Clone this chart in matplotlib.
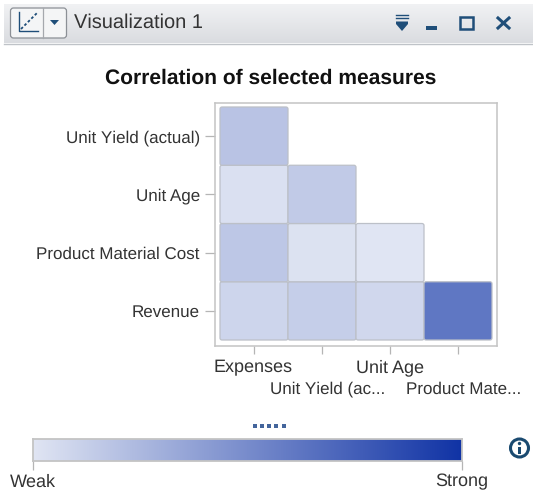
import matplotlib
matplotlib.use("Agg")
import matplotlib.pyplot as plt
import numpy as np
from matplotlib.colors import LinearSegmentedColormap
from matplotlib.patches import FancyBboxPatch, Rectangle, Circle, Polygon

plt.rcParams['font.family'] = ['Liberation Sans', 'DejaVu Sans']
plt.rcParams['text.hinting'] = 'none'
plt.rcParams['text.hinting_factor'] = 1

W, H = 533, 495
title = "Correlation of selected measures"
window_title = "Visualization 1"
y_labels = ["Revenue", "Product Material Cost", "Unit Age", "Unit Yield (actual)"]
x_labels = ["Expenses", "Unit Yield (ac...", "Unit Age", "Product Mate..."]
# rows follow y_labels, columns follow x_labels; None = empty cell
row_revenue = [0.09, 0.13, 0.08, 0.62]
row_material = [0.17, 0.02, 0.00, None]
row_age = [0.03, 0.15, None, None]
row_yield = [0.19, None, None, None]
rows = [row_revenue, row_material, row_age, row_yield]
legend_low, legend_high = "Weak", "Strong"

cmap = LinearSegmentedColormap.from_list("wk", ["#E0E5F3", "#1033A5"])
TXT = "#333333"
NAVY = "#1F4E79"
FS = 12.7

fig = plt.figure(figsize=(W / 100, H / 100), dpi=100, facecolor="white")

def ax_px(x0, y0, x1, y1, **kw):
    return fig.add_axes([x0 / W, 1 - y1 / H, (x1 - x0) / W, (y1 - y0) / H], **kw)

# chrome layer in pixel coordinates
bg = fig.add_axes([0, 0, 1, 1], zorder=0)
grad = np.linspace(0, 1, 64)[:, None]
hdr = LinearSegmentedColormap.from_list("h", ["#F1F2F4", "#DADCE0"])
bg.imshow(grad, extent=(4, W, 43, 4), cmap=hdr, aspect="auto", zorder=1)
bg.set_xlim(0, W); bg.set_ylim(H, 0); bg.axis("off")
bg.plot([4, W], [43.5, 43.5], color="#BFC3C8", lw=1, zorder=2)
bg.add_patch(FancyBboxPatch((10.5, 8), 56, 30, boxstyle="round,pad=0,rounding_size=3",
                            fc="#F4F5F6", ec="#8C9096", lw=0.9, zorder=2))
bg.plot([43, 43], [8, 38], color="#A5A8AD", lw=0.9, zorder=3)
bg.plot([19, 19, 38], [12, 31, 31], color=NAVY, lw=1.0, zorder=3)
bg.plot([21, 37], [29, 13], color=NAVY, lw=1.3, ls=(0, (1.5, 1.2)), zorder=3)
bg.add_patch(Polygon([[50, 20], [59, 20], [54.5, 25]], fc=NAVY, ec="none", zorder=3))
bg.text(74, 23, window_title, fontsize=14.4, color=TXT, va="center", ha="left", zorder=3)
for yy in (14.5, 18):
    bg.plot([396, 408], [yy, yy], color=NAVY, lw=1, zorder=3)
bg.add_patch(Polygon([[396, 21.5], [408, 21.5], [408, 24], [402, 31], [396, 24]],
                     fc=NAVY, ec="none", zorder=3))
bg.add_patch(Rectangle((426, 26), 11, 4, fc=NAVY, ec="none", zorder=3))
bg.add_patch(Rectangle((460, 17), 13, 11.5, fc="none", ec=NAVY, lw=1.8, zorder=3))
bg.plot([498, 509], [18, 28], color=NAVY, lw=2.2, zorder=3)
bg.plot([498, 509], [28, 18], color=NAVY, lw=2.2, zorder=3)
bg.text(271, 78.5, title, fontsize=15.45, fontweight="bold", color="#111111",
        ha="center", va="center", zorder=3)
bg.scatter([254.5, 261.5, 268.5, 275.5, 283.5], [426] * 5, marker="s", s=5.5,
           color="#44659C", lw=0, zorder=3)

# matrix
ax = ax_px(215, 102.5, 497, 345.5, zorder=2)
px_x = 68.0
px_y = 58.3
ax.set_xlim(-0.5 - 5 / px_x, 3.5 + 5 / px_x)
ax.set_ylim(-0.5 - 5.5 / px_y, 3.5 + 4.5 / px_y)
ax.set_xticks(range(4)); ax.set_yticks(range(4))
ax.set_yticklabels(y_labels, fontsize=12.55, color=TXT)
ax.set_xticklabels([])
ax.tick_params(axis="both", length=7.2, width=0.9, color="#B5B5B5", pad=3.8)
ax.tick_params(axis="x", length=6)
for s in ax.spines.values():
    s.set_color("#C4C4C4"); s.set_linewidth(1.1)
for r, row in enumerate(rows):
    for c, v in enumerate(row):
        if v is None:
            continue
        ax.add_patch(FancyBboxPatch((c - 0.5, r - 0.5), 1, 1,
                                    boxstyle="round,pad=0,rounding_size=0.03",
                                    mutation_aspect=px_x / px_y,
                                    fc=cmap(v), ec="#BCC0C8", lw=0.9))
# staggered x labels
for i, lab in enumerate(x_labels):
    offset = 368 if i % 2 == 0 else 389
    shift = [-1, 6, 0, 6][i]
    ax.annotate(lab, xy=(i, 0), xycoords=("data", "axes fraction"),
                xytext=(shift * 0.72, -(offset - 345.5) * 0.72), textcoords="offset points",
                fontsize=FS if i % 2 == 0 else 12.3, color=TXT, ha="center", va="center",
                annotation_clip=False)

# legend
lg = ax_px(33, 439, 462, 461, zorder=2)
lg.imshow(np.linspace(0, 1, 256)[None, :], cmap=cmap, aspect="auto", extent=(0, 1, 0, 1))
lg.set_xticks([0, 1]); lg.set_yticks([])
lg.set_xticklabels([legend_low, legend_high], fontsize=FS, color=TXT)
lg.tick_params(axis="x", length=6.5, width=0.9, color="#B5B5B5", pad=2.5)
for s in lg.spines.values():
    s.set_color("#C4C4C4"); s.set_linewidth(1.3)

# info icon
top = fig.add_axes([0, 0, 1, 1], zorder=3)
top.set_xlim(0, W); top.set_ylim(H, 0); top.axis("off"); top.patch.set_alpha(0)
top.add_patch(Circle((519.5, 448), 9, fc="white", ec="#1A4A70", lw=2.2))
top.add_patch(Circle((519.5, 443.5), 1.7, fc="#1A4A70", ec="none"))
top.add_patch(Rectangle((518, 446.5), 3, 7, fc="#1A4A70", ec="none"))

fig.savefig("out.png", dpi=100)
